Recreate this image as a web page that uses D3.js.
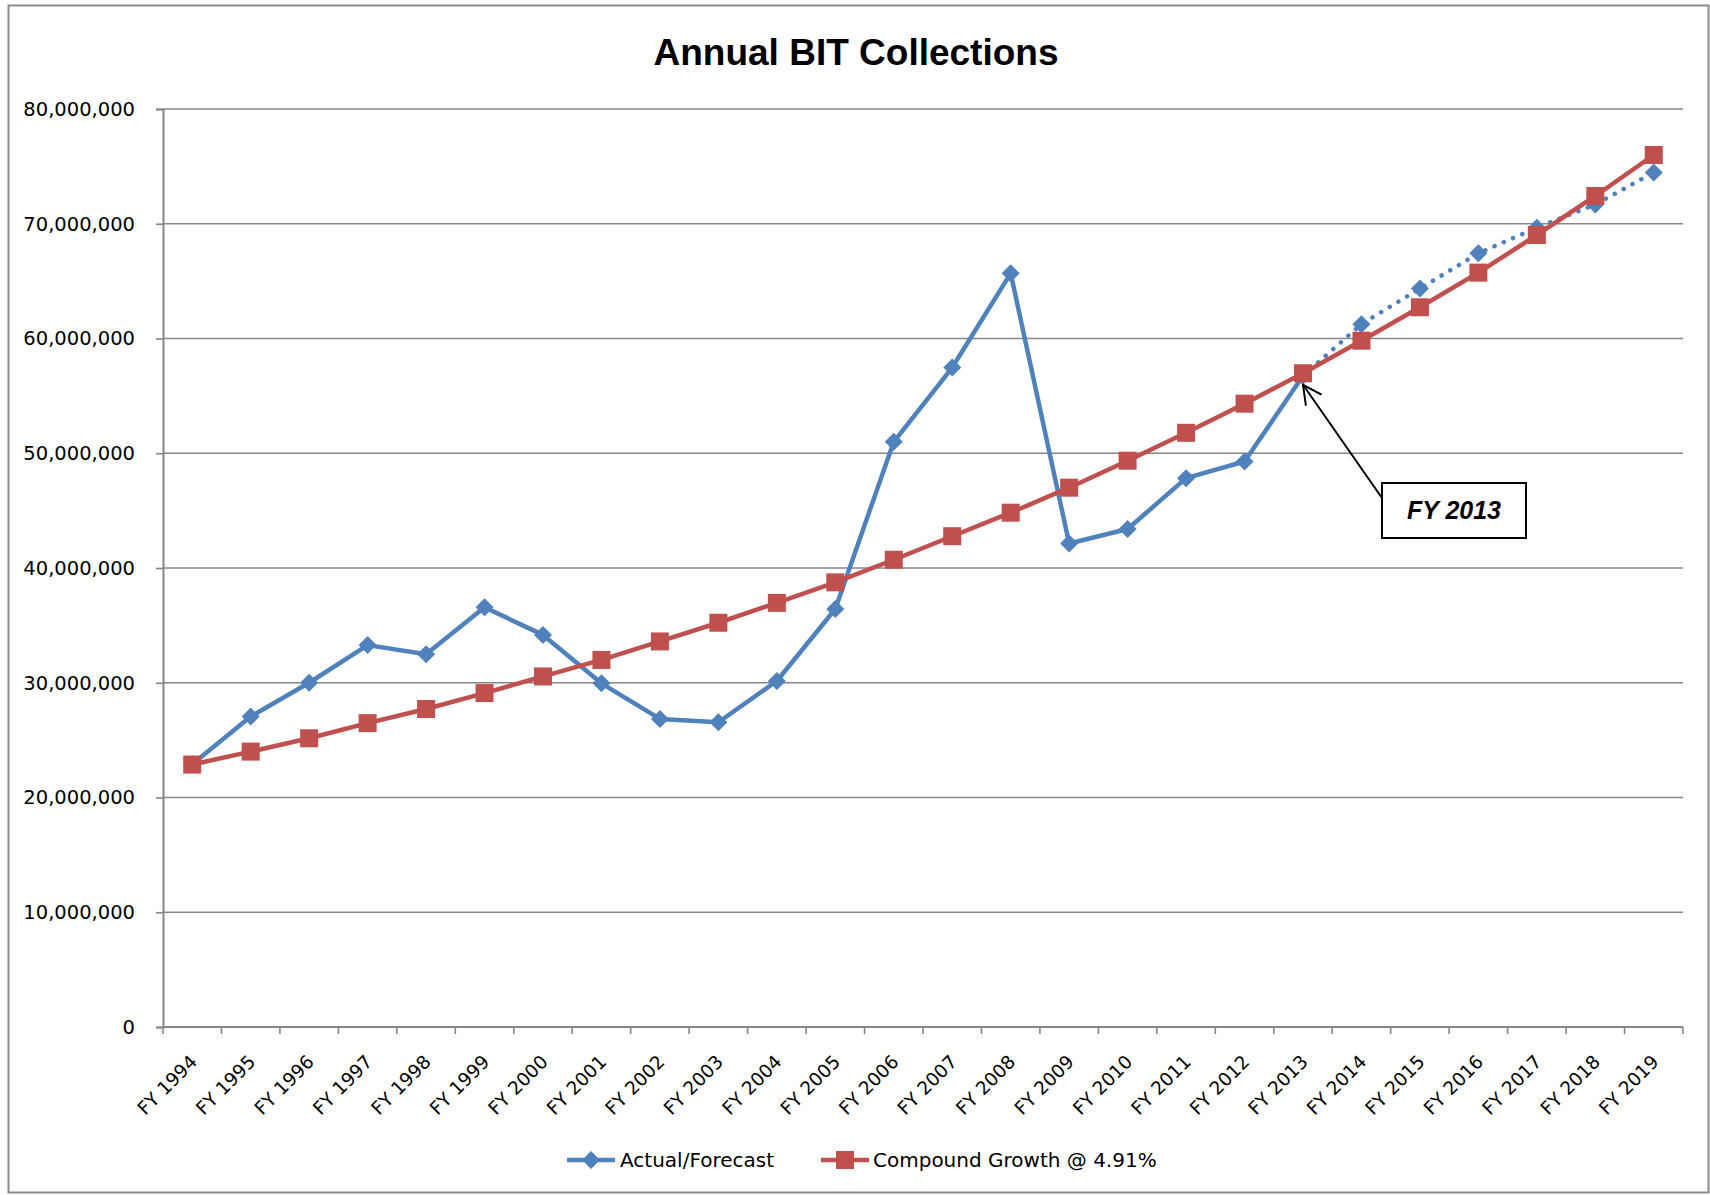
<!DOCTYPE html>
<html>
<head>
<meta charset="UTF-8" />
<title>Annual BIT Collections</title>
<script src="https://d3js.org/d3.v7.min.js"></script>
<style>
  body { margin: 0; background: #fff; }
  text { fill: #000; }
  .tick-label { font: 19.5px "DejaVu Sans", sans-serif; }
  .x-label { font: 18.5px "DejaVu Sans", sans-serif; }
  .legend text { font: 20px "DejaVu Sans", sans-serif; }
  .title { font: bold 37px "Liberation Sans", Arial, sans-serif; }
  .note { font: italic bold 25px "Liberation Sans", Arial, sans-serif; }
</style>
</head>
<body>
<div id="chart"></div>
<script>
// categories
var years = ["FY 1994", "FY 1995", "FY 1996", "FY 1997", "FY 1998", "FY 1999", "FY 2000",
  "FY 2001", "FY 2002", "FY 2003", "FY 2004", "FY 2005", "FY 2006", "FY 2007", "FY 2008",
  "FY 2009", "FY 2010", "FY 2011", "FY 2012", "FY 2013", "FY 2014", "FY 2015", "FY 2016",
  "FY 2017", "FY 2018", "FY 2019"];

// actual collections, FY 1994 - FY 2013 (dollars)
var actual = [22900000, 27050000, 30000000, 33280000, 32480000, 36570000, 34170000,
  29950000, 26850000, 26560000, 30150000, 36430000, 51000000, 57470000, 65680000,
  42130000, 43400000, 47830000, 49280000, 56750000];

// forecast, FY 2013 - FY 2019 (dotted part)
var forecastYears = ["FY 2013", "FY 2014", "FY 2015", "FY 2016", "FY 2017", "FY 2018", "FY 2019"];
var forecast = [56750000, 61250000, 64350000, 67430000, 69650000, 71680000, 74470000];

// compound growth @ 4.91%
var growth = [22870000, 24000000, 25160000, 26480000, 27710000, 29100000, 30550000,
  31990000, 33600000, 35230000, 36960000, 38750000, 40720000, 42770000, 44820000,
  47000000, 49350000, 51780000, 54320000, 56970000, 59810000, 62720000, 65740000,
  69020000, 72420000, 75990000];

var yTicks = [0, 10000000, 20000000, 30000000, 40000000, 50000000, 60000000, 70000000, 80000000];

var blue = "#4f81bd", red = "#c0504d", grey = "#868686";

var W = 1710, H = 1195;
var plot = {left: 163, right: 1683, top: 109, bottom: 1027};

var svg = d3.select("#chart").append("svg")
  .attr("width", W)
  .attr("height", H);

// outer chart border
svg.append("rect")
  .attr("x", 8.5).attr("y", 5.5)
  .attr("width", 1700).attr("height", 1187)
  .attr("fill", "#fff")
  .attr("stroke", "#8c8c8c")
  .attr("stroke-width", 2);

svg.append("text")
  .attr("class", "title")
  .attr("x", 856)
  .attr("y", 65)
  .attr("text-anchor", "middle")
  .text("Annual BIT Collections");

// scales
var x = d3.scaleBand().domain(years).range([plot.left, plot.right]).padding(0);
var y = d3.scaleLinear().domain([0, 80000000]).range([plot.bottom, plot.top]);
var cx = function(d) { return x(d) + x.bandwidth() / 2; };

// gridlines
svg.append("g").selectAll("line")
  .data(yTicks.slice(1)).enter()
  .append("line")
  .attr("x1", plot.left).attr("x2", plot.right)
  .attr("y1", function(d) { return y(d); })
  .attr("y2", function(d) { return y(d); })
  .attr("stroke", grey)
  .attr("stroke-width", 1.6);

// y axis
var yAxis = d3.axisLeft(y)
  .tickValues(yTicks)
  .tickFormat(d3.format(","))
  .tickSize(7)
  .tickPadding(21);

var gy = svg.append("g")
  .attr("transform", "translate(" + plot.left + ",0)")
  .call(yAxis);
gy.select(".domain").attr("stroke", grey).attr("stroke-width", 2);
gy.selectAll(".tick line").attr("stroke", grey).attr("stroke-width", 1.6);
gy.selectAll(".tick text").attr("class", "tick-label").attr("font-family", null).attr("font-size", null);

// x axis: line, ticks between categories, rotated labels
var gx = svg.append("g");
gx.append("line")
  .attr("x1", plot.left).attr("x2", plot.right)
  .attr("y1", plot.bottom).attr("y2", plot.bottom)
  .attr("stroke", grey).attr("stroke-width", 2);

var edges = years.map(function(d) { return x(d); }).concat([plot.right]);
gx.selectAll(".xt")
  .data(edges).enter()
  .append("line")
  .attr("class", "xt")
  .attr("x1", function(d) { return d; }).attr("x2", function(d) { return d; })
  .attr("y1", plot.bottom).attr("y2", plot.bottom + 7)
  .attr("stroke", grey).attr("stroke-width", 1.6);

gx.selectAll(".x-label")
  .data(years).enter()
  .append("text")
  .attr("class", "x-label")
  .attr("text-anchor", "end")
  .attr("transform", function(d) {
    return "translate(" + (cx(d) + 6) + "," + (plot.bottom + 36) + ") rotate(-45)";
  })
  .text(function(d) { return d; });

// lines
var line = d3.line()
  .x(function(d) { return cx(d.year); })
  .y(function(d) { return y(d.value); });

var actualData = actual.map(function(v, i) { return {year: years[i], value: v}; });
var forecastData = forecast.map(function(v, i) { return {year: forecastYears[i], value: v}; });
var growthData = growth.map(function(v, i) { return {year: years[i], value: v}; });

svg.append("path")
  .datum(actualData)
  .attr("d", line)
  .attr("fill", "none")
  .attr("stroke", blue)
  .attr("stroke-width", 4.5)
  .attr("stroke-linejoin", "round");

svg.append("path")
  .datum(forecastData)
  .attr("d", line)
  .attr("fill", "none")
  .attr("stroke", blue)
  .attr("stroke-width", 4.5)
  .attr("stroke-linecap", "round")
  .attr("stroke-dasharray", "0.1 10");

var diamond = "M0,-9L9,0L0,9L-9,0Z";

svg.append("g").selectAll("path")
  .data(actualData.concat(forecastData.slice(1))).enter()
  .append("path")
  .attr("d", diamond)
  .attr("transform", function(d) { return "translate(" + cx(d.year) + "," + y(d.value) + ")"; })
  .attr("fill", blue);

svg.append("path")
  .datum(growthData)
  .attr("d", line)
  .attr("fill", "none")
  .attr("stroke", red)
  .attr("stroke-width", 4.5)
  .attr("stroke-linejoin", "round");

svg.append("g").selectAll("rect")
  .data(growthData).enter()
  .append("rect")
  .attr("x", function(d) { return cx(d.year) - 9; })
  .attr("y", function(d) { return y(d.value) - 9; })
  .attr("width", 18).attr("height", 18)
  .attr("fill", red);

// annotation for FY 2013
var tip = [cx("FY 2013"), y(actual[actual.length - 1]) + 9];
var tail = [1382, 498];
var ang = Math.atan2(tail[1] - tip[1], tail[0] - tip[0]);
var armLen = 21, spread = 0.47;
var note = svg.append("g");
note.append("line")
  .attr("x1", tail[0]).attr("y1", tail[1])
  .attr("x2", tip[0]).attr("y2", tip[1])
  .attr("stroke", "#000").attr("stroke-width", 2);
note.append("path")
  .attr("d", "M" + (tip[0] + armLen * Math.cos(ang - spread)) + "," + (tip[1] + armLen * Math.sin(ang - spread)) +
    "L" + tip[0] + "," + tip[1] +
    "L" + (tip[0] + armLen * Math.cos(ang + spread)) + "," + (tip[1] + armLen * Math.sin(ang + spread)))
  .attr("fill", "none")
  .attr("stroke", "#000").attr("stroke-width", 2);
note.append("rect")
  .attr("x", 1382).attr("y", 483)
  .attr("width", 144).attr("height", 55)
  .attr("fill", "#fff")
  .attr("stroke", "#000").attr("stroke-width", 2);
note.append("text")
  .attr("class", "note")
  .attr("x", 1454).attr("y", 519)
  .attr("text-anchor", "middle")
  .text("FY 2013");

// legend
var legend = svg.append("g").attr("class", "legend");
var ly = 1160;

legend.append("line")
  .attr("x1", 567).attr("x2", 615).attr("y1", ly).attr("y2", ly)
  .attr("stroke", blue).attr("stroke-width", 4.5);
legend.append("path")
  .attr("d", diamond)
  .attr("transform", "translate(591," + ly + ")")
  .attr("fill", blue);
legend.append("text")
  .attr("x", 620).attr("y", ly + 7)
  .text("Actual/Forecast");

legend.append("line")
  .attr("x1", 821).attr("x2", 869).attr("y1", ly).attr("y2", ly)
  .attr("stroke", red).attr("stroke-width", 4.5);
legend.append("rect")
  .attr("x", 845 - 9).attr("y", ly - 9)
  .attr("width", 18).attr("height", 18)
  .attr("fill", red);
legend.append("text")
  .attr("x", 873).attr("y", ly + 7)
  .text("Compound Growth @ 4.91%");
</script>
</body>
</html>
